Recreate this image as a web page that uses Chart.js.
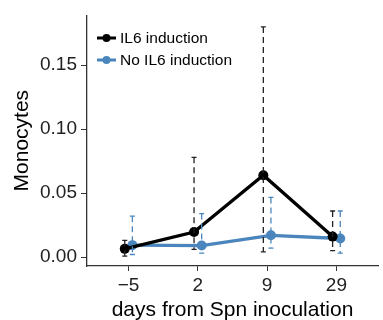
<!DOCTYPE html>
<html>
<head>
<meta charset="utf-8">
<script src="https://cdn.jsdelivr.net/npm/chart.js@4"></script>
<style>
  html, body { margin: 0; padding: 0; background: #fff; }
  #wrap { width: 383px; height: 320px; position: relative; }
</style>
</head>
<body>
<div id="wrap"><canvas id="myChart"></canvas></div>
<script>
const days = ['\u22125', '2', '9', '29'];
const il6 = [0.0064, 0.0196, 0.064, 0.016];
const il6Low = [0.0008, 0.006, 0.004, 0.005];
const il6High = [0.0131, 0.078, 0.180, 0.036];
const noIl6 = [0.0093, 0.009, 0.017, 0.0145];
const noIl6Low = [0.002, 0.003, 0.007, 0.003];
const noIl6High = [0.032, 0.034, 0.0466, 0.036];
const yTicks = [0, 0.05, 0.10, 0.15];

const BLACK = '#000000';
const BLUE = '#4a86bd';
const dodge = 0.055;

const pts = (vals, off) => vals.map((v, i) => ({ x: i + off, y: v }));

const errorBars = {
  id: 'errorBars',
  afterDatasetsDraw(chart) {
    const { ctx, scales: { x, y } } = chart;
    chart.data.datasets.forEach(ds => {
      ctx.save();
      ctx.strokeStyle = ds.errColor;
      ctx.lineWidth = 1.3;
      ds.data.forEach((p, i) => {
        const px = x.getPixelForValue(p.x);
        const top = y.getPixelForValue(ds.hi[i]);
        const bot = y.getPixelForValue(ds.lo[i]);
        ctx.setLineDash([6, 4]);
        ctx.beginPath();
        ctx.moveTo(px, top);
        ctx.lineTo(px, bot);
        ctx.stroke();
        ctx.setLineDash([]);
        ctx.beginPath();
        ctx.moveTo(px - 2.5, top); ctx.lineTo(px + 2.5, top);
        ctx.moveTo(px - 2.5, bot); ctx.lineTo(px + 2.5, bot);
        ctx.stroke();
      });
      ctx.restore();
    });
  }
};

const legendInside = {
  id: 'legendInside',
  afterDraw(chart) {
    const { ctx } = chart;
    const items = chart.data.datasets;
    ctx.save();
    ctx.font = '15.5px "Liberation Sans", Arial, sans-serif';
    ctx.textBaseline = 'middle';
    items.forEach((ds, k) => {
      const yy = 38 + k * 22;
      ctx.strokeStyle = ds.borderColor;
      ctx.lineWidth = 3;
      ctx.beginPath();
      ctx.moveTo(97, yy); ctx.lineTo(116, yy);
      ctx.stroke();
      ctx.fillStyle = ds.borderColor;
      ctx.beginPath();
      ctx.arc(106.5, yy, 4, 0, Math.PI * 2);
      ctx.fill();
      ctx.fillStyle = '#000';
      ctx.fillText(ds.label, 120, yy + 1);
    });
    ctx.restore();
  }
};

Chart.defaults.font.family = '"Liberation Sans", Arial, sans-serif';

new Chart(document.getElementById('myChart'), {
  type: 'line',
  data: {
    datasets: [
      {
        label: 'IL6 induction',
        data: pts(il6, -dodge),
        lo: il6Low,
        hi: il6High,
        errColor: '#222',
        borderColor: BLACK,
        backgroundColor: BLACK,
        borderWidth: 3.3,
        pointRadius: 5,
        pointBorderWidth: 0,
        tension: 0
      },
      {
        label: 'No IL6 induction',
        data: pts(noIl6, dodge),
        lo: noIl6Low,
        hi: noIl6High,
        errColor: BLUE,
        borderColor: BLUE,
        backgroundColor: BLUE,
        borderWidth: 3.3,
        pointRadius: 5,
        pointBorderWidth: 0,
        tension: 0
      }
    ]
  },
  options: {
    responsive: true,
    maintainAspectRatio: false,
    animation: false,
    layout: { padding: { top: 10, right: 0, left: 0, bottom: 0 } },
    plugins: {
      legend: { display: false },
      tooltip: { enabled: false }
    },
    scales: {
      x: {
        type: 'linear',
        min: -0.6,
        max: 3.6,
        afterBuildTicks: s => { s.ticks = days.map((d, i) => ({ value: i })); },
        afterFit: s => { s.height = 54; },
        ticks: {
          callback: v => days[v],
          color: '#222',
          font: { size: 19 },
          padding: 3,
          maxRotation: 0
        },
        grid: { drawOnChartArea: false, tickLength: 5, color: '#333' },
        border: { display: true, color: '#333', width: 1.3 },
        title: {
          display: true,
          text: 'days from Spn inoculation',
          color: '#000',
          font: { size: 21 },
          padding: { top: 0, bottom: -3 }
        }
      },
      y: {
        min: -0.007,
        max: 0.189,
        afterBuildTicks: s => { s.ticks = yTicks.map(v => ({ value: v })); },
        afterFit: s => { s.width = 87; },
        ticks: {
          callback: v => v.toFixed(2),
          color: '#222',
          font: { size: 19 },
          padding: 4
        },
        grid: { drawOnChartArea: false, tickLength: 6, color: '#333' },
        border: { display: true, color: '#333', width: 1.3 },
        title: {
          display: true,
          text: 'Monocytes',
          color: '#000',
          font: { size: 21 },
          padding: { top: 10, bottom: 0 }
        }
      }
    }
  },
  plugins: [errorBars, legendInside]
});
</script>
</body>
</html>
